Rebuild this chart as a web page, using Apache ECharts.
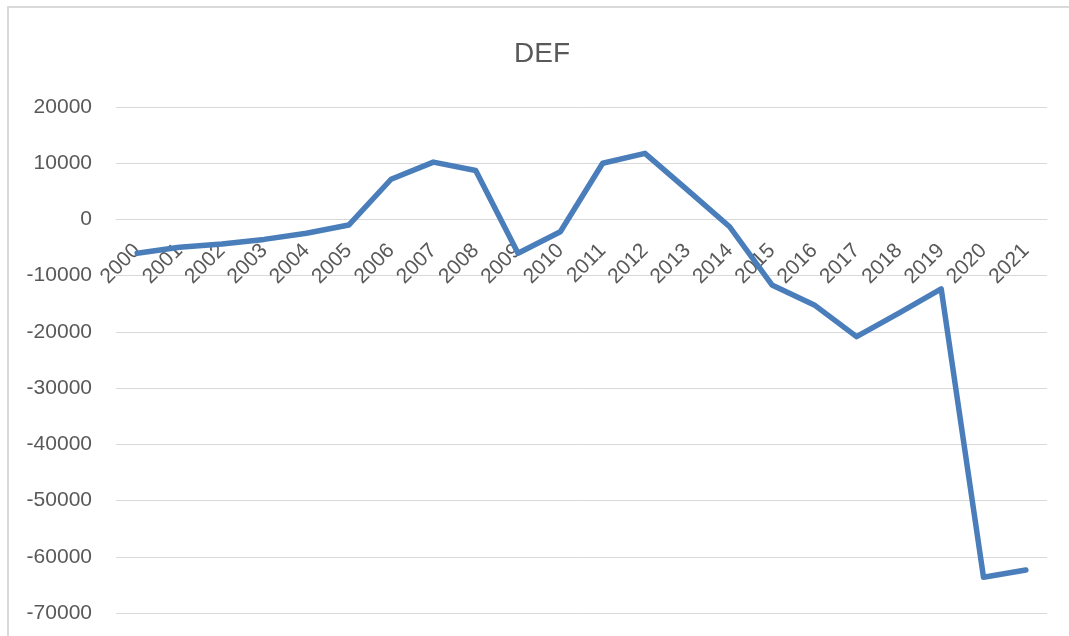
<!DOCTYPE html>
<html>
<head>
<meta charset="utf-8">
<script src="https://cdn.jsdelivr.net/npm/echarts@6/dist/echarts.min.js"></script>
<style>
html,body{margin:0;padding:0;background:#fff;}
#chart{width:1069px;height:636px;}
</style>
</head>
<body>
<div id="chart"></div>
<script>
const title = 'DEF';
const categories = ['2000','2001','2002','2003','2004','2005','2006','2007','2008','2009','2010','2011','2012','2013','2014','2015','2016','2017','2018','2019','2020','2021'];
const values = [-6000,-4950,-4350,-3550,-2450,-1000,7150,10200,8700,-6000,-2200,10000,11750,5250,-1300,-11650,-15200,-20850,-16650,-12350,-63650,-62350];
const yMin = -70000, yMax = 20000, yStep = 10000;

const W = 1069, H = 636;
const gridTop = 107, gridBottom = 23;
const gridH = H - gridTop - gridBottom;
// place the category labels along the zero line (Excel style)
const zeroOffset = -gridH * (0 - yMin) / (yMax - yMin);

const chart = echarts.init(document.getElementById('chart'));
chart.setOption({
  backgroundColor: '#ffffff',
  animation: false,
  title: {
    text: title, left: 509, top: 35,
    textStyle: {fontFamily: 'Liberation Sans', fontSize: 28, fontWeight: 'normal', color: '#595959'}
  },
  graphic: [{
    type: 'rect', shape: {x: 8, y: 7, width: 1200, height: 800},
    style: {fill: 'none', stroke: '#D9D9D9', lineWidth: 2}, silent: true
  }],
  grid: {left: 116, right: 22, top: gridTop, bottom: gridBottom},
  xAxis: {
    type: 'category', data: categories, boundaryGap: true,
    position: 'bottom', offset: zeroOffset,
    axisLine: {show: true, onZero: false, lineStyle: {color: '#D9D9D9', width: 1}},
    axisTick: {show: false},
    axisLabel: {interval: 0, rotate: 45, margin: 28, fontFamily: 'Liberation Sans', fontSize: 21, color: '#595959'}
  },
  yAxis: {
    type: 'value', min: yMin, max: yMax, interval: yStep,
    axisLine: {show: false}, axisTick: {show: false},
    splitLine: {lineStyle: {color: '#D9D9D9', width: 1}},
    axisLabel: {margin: 24, fontFamily: 'Liberation Sans', fontSize: 21, color: '#595959', formatter: function(v){return String(v);}}
  },
  series: [{
    type: 'line', data: values, symbol: 'none',
    lineStyle: {color: '#4A7EBB', width: 5.5, join: 'round', cap: 'round'},
    itemStyle: {color: '#4A7EBB'}
  }]
});
</script>
</body>
</html>
